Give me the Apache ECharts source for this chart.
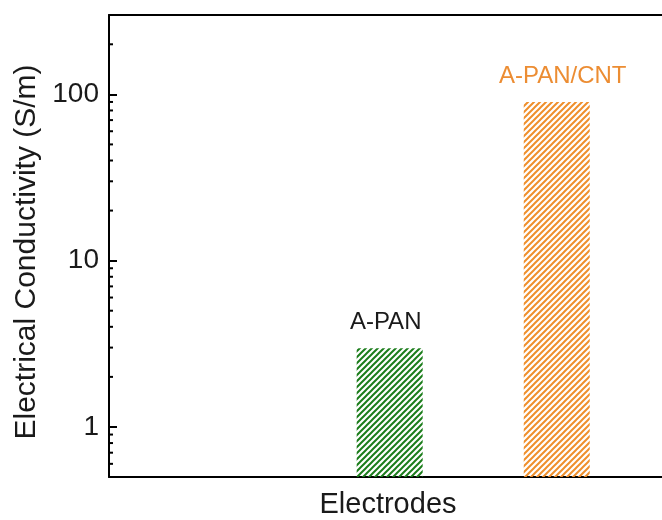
<!DOCTYPE html>
<html>
<head>
<meta charset="utf-8">
<script src="https://cdn.jsdelivr.net/npm/echarts@6/dist/echarts.min.js"></script>
<style>
  html, body { margin: 0; padding: 0; background: #fff; }
  #chart { width: 662px; height: 520px; }
</style>
</head>
<body>
<div id="chart"></div>
<script>
// Electrode samples and their measured conductivity (S/m)
const categories = ['A-PAN', 'A-PAN/CNT'];
const conductivity = [2.97, 90];
const yTickLabels = ['1', '10', '100'];

const barColors = ['#1b7d1b', '#ef8f2c'];
const labelColors = ['#1a1a1a', '#ec8d33'];

// Diagonal hatch fill for the bars
function hatch(color) {
  const size = 6;
  const c = document.createElement('canvas');
  c.width = size; c.height = size;
  const ctx = c.getContext('2d');
  ctx.strokeStyle = color;
  ctx.lineWidth = 2;
  ctx.lineCap = 'square';
  ctx.beginPath();
  ctx.moveTo(0, size); ctx.lineTo(size, 0);
  ctx.moveTo(-1, 1); ctx.lineTo(1, -1);
  ctx.moveTo(size - 1, size + 1); ctx.lineTo(size + 1, size - 1);
  ctx.stroke();
  return { image: c, repeat: 'repeat' };
}

// Minor tick values of a log axis between 0.5 and 300
const Y_MIN = 0.5, Y_MAX = 300;
const minorTicks = [];
[0.1, 1, 10, 100].forEach(function (d) {
  for (let k = 2; k <= 9; k++) {
    const v = k * d;
    if (v >= Y_MIN && v <= Y_MAX) minorTicks.push(v);
  }
});

const font = 'Liberation Sans, Arial, sans-serif';
const X_MIN = -1.68, X_MAX = 1.63;
const BAR_W = 66;

const frameAxis = function (position) {
  return {
    type: 'value', min: X_MIN, max: X_MAX, position: position,
    axisLine: { show: true, onZero: false, lineStyle: { color: '#000', width: 2 } },
    axisTick: { show: false }, axisLabel: { show: false }, splitLine: { show: false }
  };
};

const chart = echarts.init(document.getElementById('chart'), null, { renderer: 'canvas' });
chart.setOption({
  backgroundColor: '#fff',
  animation: false,
  grid: { left: 109, top: 15, right: 0, bottom: 43, show: false },
  xAxis: [frameAxis('bottom'), frameAxis('top')],
  yAxis: {
    type: 'log', logBase: 10, min: Y_MIN, max: Y_MAX,
    name: 'Electrical Conductivity (S/m)',
    nameLocation: 'middle', nameGap: 67,
    nameTextStyle: { fontFamily: font, fontSize: 30, color: '#1a1a1a', padding: [0, 12, 0, 0] },
    axisLine: { show: true, onZero: false, lineStyle: { color: '#000', width: 2 } },
    axisTick: { show: true, inside: true, length: 8, lineStyle: { color: '#000', width: 2 } },
    axisLabel: {
      fontFamily: font, fontSize: 28, color: '#1a1a1a', margin: 10,
      formatter: function (v) {
        const s = String(Math.round(v * 1000) / 1000);
        return yTickLabels.indexOf(s) >= 0 ? s : '';
      }
    },
    splitLine: { show: false }
  },
  graphic: [{
    type: 'text', x: 388, y: 505,
    style: {
      text: 'Electrodes', fontFamily: font, fontSize: 29, fill: '#1a1a1a',
      align: 'center', verticalAlign: 'middle'
    }
  }],
  series: [
    {
      // hatched bars rising from the bottom of the log axis
      type: 'custom',
      clip: true,
      data: conductivity.map(function (v, i) { return [i, v]; }),
      encode: { x: 0, y: 1 },
      renderItem: function (params, api) {
        const i = api.value(0);
        const top = api.coord([i, api.value(1)]);
        const base = api.coord([i, Y_MIN]);
        const x0 = top[0] - BAR_W / 2;
        return {
          type: 'group',
          children: [
            {
              type: 'rect',
              shape: { x: x0, y: top[1], width: BAR_W, height: base[1] - top[1] },
              style: { fill: hatch(barColors[i]) }
            },
            {
              type: 'text',
              x: top[0] + (i === 0 ? -4 : 6), y: top[1] - 14,
              style: {
                text: categories[i], fontFamily: font, fontSize: 24,
                fill: labelColors[i], align: 'center', verticalAlign: 'bottom'
              }
            }
          ]
        };
      }
    },
    {
      // minor ticks on the log axis
      type: 'custom',
      silent: true,
      clip: false,
      data: minorTicks,
      encode: { y: 0 },
      renderItem: function (params, api) {
        const p = api.coord([X_MIN, api.value(0)]);
        return {
          type: 'line',
          shape: { x1: p[0], y1: p[1], x2: p[0] + 4, y2: p[1] },
          style: { stroke: '#000', lineWidth: 2 }
        };
      }
    }
  ]
});
</script>
</body>
</html>
